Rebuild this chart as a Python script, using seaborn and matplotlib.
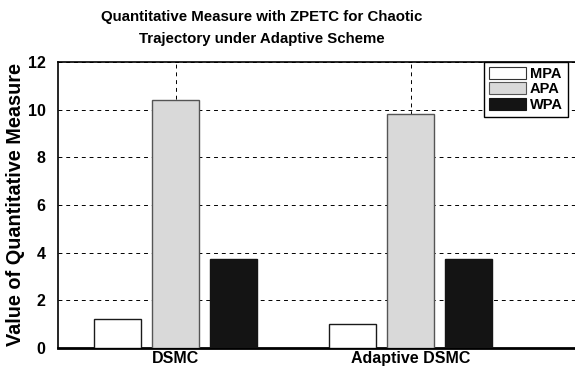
import matplotlib
matplotlib.use("Agg")
import matplotlib.pyplot as plt
import seaborn as sns
import pandas as pd
from matplotlib.patches import Patch

# Quantitative measures per controller
controllers = ["DSMC", "Adaptive DSMC"]
measures = ["MPA", "APA", "WPA"]
mpa = [1.22, 1.00]
apa = [10.42, 9.83]
wpa = [3.74, 3.74]
y_ticks = [0, 2, 4, 6, 8, 10, 12]

colors = {"MPA": "#ffffff", "APA": "#d9d9d9", "WPA": "#141414"}
edges = {"MPA": "#1a1a1a", "APA": "#555555", "WPA": "#141414"}

rows = []
for i, c in enumerate(controllers):
    for m, vals in zip(measures, [mpa, apa, wpa]):
        rows.append({"controller": c, "measure": m, "value": vals[i]})
df = pd.DataFrame(rows)

sns.set_style("white")
plt.rcParams["font.family"] = ["Liberation Sans", "DejaVu Sans"]
plt.rcParams["font.weight"] = "bold"
plt.rcParams["text.color"] = "black"
plt.rcParams["xtick.color"] = "black"
plt.rcParams["ytick.color"] = "black"
plt.rcParams["axes.labelcolor"] = "black"

fig = plt.figure(figsize=(5.75, 3.72), dpi=100)
ax = fig.add_axes([58 / 575, 24 / 372, (575 - 58) / 575, (348 - 62) / 372])

sns.barplot(data=df, x="controller", y="value", hue="measure",
            hue_order=measures, palette=colors, width=0.74, gap=0.205,
            edgecolor="black", linewidth=1.0, legend=False, ax=ax, zorder=3)

# per-measure edge colours
for container, m in zip(ax.containers, measures):
    for bar in container:
        bar.set_edgecolor(edges[m])

ax.set_xlim(-0.5, 1.70)
ax.set_ylim(0, 12)
ax.set_yticks(y_ticks)
ax.set_yticklabels([str(t) for t in y_ticks], fontsize=11.5, fontweight="bold")
ax.set_xticks([0, 1])
ax.set_xticklabels(controllers, fontsize=11.5, fontweight="bold")
ax.tick_params(axis="y", length=0, pad=9)
ax.tick_params(axis="x", length=0, pad=2)
ax.set_xlabel("")
ax.set_ylabel("Value of Quantitative Measure", fontsize=14.3, fontweight="bold")
ax.yaxis.set_label_coords((25 - 58) / 517, 0.5)

ax.grid(True, axis="both", color="black", linestyle=(0, (4, 4)), linewidth=0.7, zorder=0)
ax.set_axisbelow(True)

for side in ["left", "top"]:
    ax.spines[side].set_color("black")
    ax.spines[side].set_linewidth(1.2)
ax.spines["bottom"].set_color("black")
ax.spines["bottom"].set_linewidth(2.0)
ax.spines["right"].set_visible(False)

fig.text(262 / 575, 1 - 10 / 372,
         "Quantitative Measure with ZPETC for Chaotic\nTrajectory under Adaptive Scheme",
         ha="center", va="top", fontsize=10.85, fontweight="bold", linespacing=1.75)

handles = [Patch(facecolor=colors[m], edgecolor=edges[m] if m != "MPA" else "#333333",
                 linewidth=0.8, label=m) for m in measures]
leg = fig.legend(handles=handles, loc="upper left",
                 bbox_to_anchor=(484 / 575, 1 - 62 / 372), bbox_transform=fig.transFigure,
                 borderaxespad=0, frameon=True, fancybox=False, framealpha=1,
                 edgecolor="black", prop={"weight": "bold", "size": 10.5},
                 handlelength=2.5, handleheight=0.9, handletextpad=0.3,
                 labelspacing=0.08, borderpad=0.35)
leg.get_frame().set_linewidth(1.0)

fig.savefig("out.png", dpi=100)
